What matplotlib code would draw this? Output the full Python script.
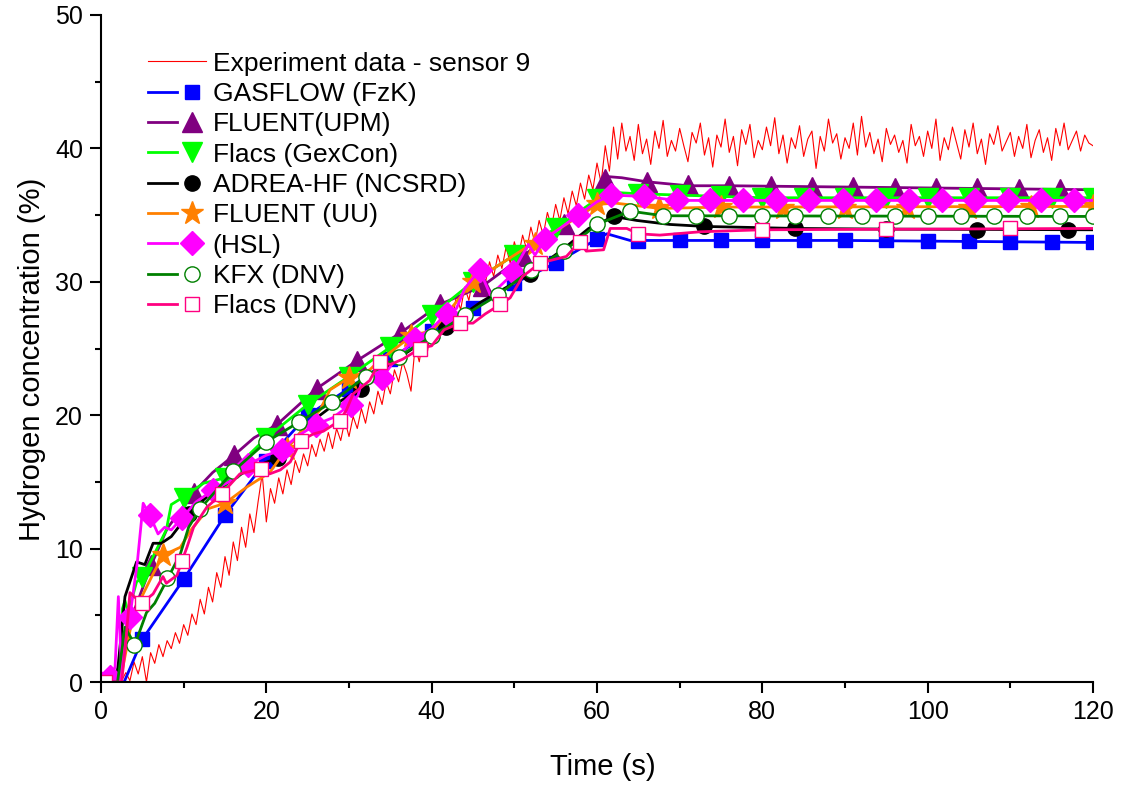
import numpy as np
import matplotlib
matplotlib.use("Agg")
import matplotlib.pyplot as plt
from matplotlib.legend_handler import HandlerTuple

plt.rcParams["font.family"] = ["Liberation Sans", "DejaVu Sans"]

# experiment, sampled every 0.5 s from t = 0
exp_conc = [
    0.0, 0.2, 0.0, 0.3, 0.0, 0.1, 0.7, 0.1, 1.5, 0.6,
    1.9, 0.0, 2.2, 1.4, 2.8, 1.9, 3.1, 2.5, 3.7, 2.9,
    4.3, 3.5, 5.1, 4.3, 6.2, 5.1, 7.1, 6.0, 8.2, 7.1,
    9.4, 8.0, 10.5, 9.1, 11.6, 10.1, 12.6, 11.2, 13.5, 15.6,
    12.0, 14.5, 13.4, 15.3, 14.1, 15.9, 14.8, 16.6, 15.7, 17.1,
    16.2, 17.8, 16.9, 18.2, 17.3, 18.7, 17.5, 19.0, 18.1, 19.6,
    18.4, 19.9, 19.0, 20.5, 19.4, 21.0, 20.1, 21.8, 20.8, 22.5,
    21.6, 23.4, 22.5, 24.0, 23.1, 21.8, 25.2, 24.0, 25.9, 24.8,
    26.8, 25.7, 27.4, 26.3, 28.3, 27.1, 29.0, 27.9, 29.6, 28.6,
    30.3, 29.2, 30.9, 29.9, 31.5, 30.4, 32.0, 31.0, 32.6, 31.4,
    33.0, 31.9, 33.5, 32.4, 34.1, 32.9, 34.6, 33.5, 35.2, 34.1,
    35.8, 34.6, 36.3, 35.1, 36.8, 35.7, 37.4, 36.2, 38.0, 36.9,
    38.9, 37.4, 40.2, 38.3, 41.6, 39.2, 41.9, 39.8,
    40.9, 39.1, 41.8, 39.6, 40.7, 38.8, 41.3, 40.0, 42.1, 39.4,
    40.6, 39.8, 41.5, 40.2, 39.0, 41.2, 40.4, 41.9, 39.5, 40.8,
    38.6, 41.0, 40.1, 42.2, 39.7, 40.9, 38.7, 41.4, 40.3, 41.8,
    39.3, 40.6, 39.9, 41.6, 40.2, 42.3, 39.6, 41.0, 38.9, 40.8,
    40.0, 41.7, 39.4, 40.7, 41.3, 38.5, 40.9, 39.8, 42.2, 40.4,
    41.1, 39.2, 40.8, 40.0, 41.9, 39.5, 42.4, 40.1, 41.2, 39.6,
    40.7, 39.0, 41.5, 40.3, 41.0, 39.7, 40.6, 38.9, 41.8, 40.2,
    40.9, 39.4, 41.3, 40.0, 42.2, 39.1, 40.8, 39.9, 41.6, 40.4,
    39.2, 41.4, 40.1, 41.9, 39.6, 40.7, 38.8, 41.1, 40.3, 41.7,
    39.8, 40.5, 41.2, 39.4, 40.9, 40.0, 41.8, 39.3, 40.6, 41.4,
    39.7, 40.8, 39.1, 41.5, 40.2, 41.9, 39.9, 40.6, 41.3, 39.8,
    41.0, 40.4, 40.2,
]
exp_time = 0.5 * np.arange(len(exp_conc))

# GASFLOW (FzK)
gas_t = [0, 2.8, 5, 10, 15, 20, 25, 30, 35, 40, 45, 50, 55, 60, 61.2, 64, 90, 120]
gas_c = [0, 0, 3.2, 7.7, 12.5, 16.6, 20.0, 22.0, 24.2, 26.3, 28.0, 29.9, 31.4, 33.2, 33.6, 33.1, 33.1, 32.95]
gas_mt = [5, 10, 15, 20, 25, 30, 35, 40, 45, 50, 55, 60, 65, 70, 75, 80, 85, 90, 95, 100, 105, 110, 115, 120]
gas_mc = [3.2, 7.7, 12.5, 16.6, 20.0, 22.0, 24.2, 26.3, 28.0, 29.9, 31.4, 33.2, 33.05, 33.1, 33.1, 33.1,
          33.1, 33.1, 33.1, 33.05, 33.05, 33.0, 32.95, 32.95]

# FLUENT (UPM)
upm_t = [0, 2.2, 3.5, 6.1, 8, 11.2, 13.5, 16.1, 18.5, 21.3, 26.1, 31, 36.3, 41, 46.2, 51, 55.5, 59.5, 61,
         63, 66, 71, 76, 120]
upm_c = [0, 0, 4.5, 8.8, 11.5, 14.2, 15.7, 17.0, 18.3, 19.3, 22.0, 24.1, 26.2, 28.3, 29.7, 31.9, 34.1, 35.6,
         37.9, 37.8, 37.5, 37.2, 37.2, 36.9]
upm_mt = [6.1, 11.2, 16.1, 21.3, 26.1, 31, 36.3, 41, 46.2, 51, 56, 61, 66, 71, 76, 81, 86, 91, 96, 101, 106,
          111, 116]
upm_mc = [8.8, 14.2, 17.0, 19.3, 22.0, 24.1, 26.2, 28.3, 29.7, 31.9, 34.3, 37.7, 37.5, 37.25, 37.2, 37.15,
          37.1, 37.1, 37.05, 37.05, 37.0, 36.95, 36.95]

# Flacs (GexCon)
gex_t = [0, 2.3, 2.6, 2.9, 3.3, 4.3, 5.1, 7.9, 8.5, 9.8, 12.4, 15, 20, 25, 30, 35, 40, 45, 50, 55, 60, 62,
         65, 70, 75, 80, 120]
gex_c = [0, 0, 5.5, 6.1, 5.2, 7.5, 7.9, 11.4, 13.3, 13.8, 14.9, 15.3, 18.3, 20.8, 22.9, 25.1, 27.5, 30.0,
         32.0, 34.0, 36.2, 36.7, 36.6, 36.5, 36.4, 36.3, 36.3]
gex_mt = [5, 10, 15, 20, 25, 30, 35, 40, 45, 50, 55, 60, 65, 70, 75, 80, 85, 90, 95, 100, 105, 110, 115, 120]
gex_mc = [7.9, 13.8, 15.3, 18.3, 20.8, 22.9, 25.1, 27.5, 30.0, 32.0, 34.0, 36.2, 36.6, 36.5, 36.4, 36.3,
          36.3, 36.3, 36.3, 36.3, 36.3, 36.3, 36.3, 36.3]

# ADREA-HF (NCSRD)
adr_t = [0, 1.8, 2.1, 2.9, 4.3, 5.3, 6.3, 7.3, 8.5, 10.6, 13, 15, 18, 21.4, 25, 28, 31.5, 36, 41.7, 46,
         51.9, 56, 59, 62, 64.8, 68.8, 73, 84, 95, 120]
adr_c = [0, 0, 1.4, 6.4, 9.0, 8.8, 10.4, 10.4, 10.9, 12.6, 14.0, 14.8, 16.0, 16.8, 19.3, 20.7, 22.0, 24.3,
         26.6, 28.5, 30.6, 32.5, 34.0, 34.9, 34.6, 34.3, 34.15, 34.0, 33.95, 33.9]
adr_mt = [10.6, 21.4, 31.5, 41.7, 51.9, 62, 73, 84, 95, 106, 117]
adr_mc = [12.6, 16.8, 22.0, 26.6, 30.6, 34.9, 34.15, 34.0, 33.95, 33.9, 33.9]

# FLUENT (UU)
uu_t = [0, 2.3, 3.9, 6.3, 7.5, 9.6, 11, 13, 15, 17.6, 20.4, 22.5, 23.3, 26.5, 27.7, 30, 32.5, 33.7, 37.5,
        40.2, 45, 51.5, 52.5, 55, 58, 60, 62.2, 67.6, 75, 120]
uu_c = [0, 0, 5.1, 8.1, 9.5, 10.1, 11.5, 13.0, 13.4, 14.6, 15.7, 17.5, 18.1, 20.4, 21.9, 22.8, 23.4, 24.1,
        25.9, 26.4, 30.0, 32.6, 32.8, 33.8, 35.0, 35.8, 35.9, 35.5, 35.6, 35.65]
uu_mt = [7.5, 15, 22.5, 30, 37.5, 45, 52.5, 60, 67.5, 75, 82.5, 90, 97.5, 105, 112.5, 120]
uu_mc = [9.5, 13.4, 17.5, 22.8, 25.9, 30.0, 32.8, 35.8, 35.5, 35.6, 35.5, 35.5, 35.5, 35.55, 35.6, 35.65]

# (HSL)
hsl_t = [0, 1.1, 1.7, 2.1, 2.5, 3.1, 3.5, 4.4, 5.1, 5.9, 6.9, 7.7, 8.5, 9.8, 11.5, 13.6, 15.5, 17.8, 20,
         21.9, 23.7, 26, 28, 30.2, 31.1, 31.7, 32.5, 34, 36, 38, 40, 41.8, 43, 44, 45.8, 47.1, 49.5, 51.7,
         52.5, 53.7, 55.5, 57.7, 60, 61.7, 65.7, 69.7, 120]
hsl_c = [0.7, 0.4, 1.1, 6.4, 0.6, 4.6, 4.9, 9.0, 13.4, 12.5, 11.1, 11.6, 11.4, 12.3, 13.5, 14.4, 15.0, 16.3,
         17.0, 17.4, 18.4, 19.3, 19.8, 20.8, 21.5, 22.9, 22.4, 22.8, 24.5, 25.7, 26.5, 27.6, 28.0, 29.5,
         30.9, 29.0, 30.4, 32.8, 32.0, 33.2, 34.0, 35.0, 36.0, 36.5, 36.4, 36.1, 36.1]
hsl_mt = [1.1, 3.5, 5.9, 9.8, 13.6, 17.8, 21.9, 26, 30.2, 34, 38, 41.8, 45.8, 49.8, 53.7, 57.7, 61.7, 65.7,
          69.7, 73.7, 77.7, 81.7, 85.7, 89.7, 93.7, 97.7, 101.7, 105.7, 109.7, 113.7, 117.7]
hsl_mc = [0.4, 4.9, 12.5, 12.3, 14.4, 16.3, 17.4, 19.3, 20.8, 22.8, 25.7, 27.6, 30.9, 30.7, 33.2, 35.0,
          36.5, 36.4, 36.1, 36.1, 36.1, 36.1, 36.1, 36.1, 36.1, 36.1, 36.1, 36.1, 36.1, 36.1, 36.1]

# KFX (DNV)
kfx_t = [0, 2.0, 2.9, 4.1, 5.5, 6.5, 8.1, 9.6, 10.6, 12, 16, 20, 24, 28, 32, 36, 40, 44, 48, 52, 56, 60,
         64, 68, 120]
kfx_c = [0, 0, 4.1, 2.8, 5.2, 5.9, 7.8, 9.6, 11.6, 13.0, 15.8, 18.0, 19.5, 21.0, 22.9, 24.4, 25.9, 27.5,
         29.0, 30.9, 32.3, 34.3, 35.3, 34.95, 34.9]
kfx_mt = [4, 8, 12, 16, 20, 24, 28, 32, 36, 40, 44, 48, 52, 56, 60, 64, 68, 72, 76, 80, 84, 88, 92, 96,
          100, 104, 108, 112, 116, 120]
kfx_mc = [2.8, 7.8, 13.0, 15.8, 18.0, 19.5, 21.0, 22.9, 24.4, 25.9, 27.5, 29.0, 30.9, 32.3, 34.3, 35.3,
          34.95, 34.9, 34.9, 34.9, 34.9, 34.9, 34.9, 34.9, 34.9, 34.9, 34.9, 34.9, 34.9, 34.9]

# Flacs (DNV)
dnv_t = [0, 2.5, 3.0, 3.5, 4.9, 6.3, 7.5, 7.9, 9.2, 9.8, 10.4, 11.2, 12.8, 14.6, 16.8, 19.4, 20.4, 21.7,
         22.9, 24.2, 25.7, 26.9, 28.9, 29.7, 30.5, 32.5, 33.7, 35, 36.5, 38.6, 40, 41.5, 43.4, 45, 46.5,
         48.3, 49.5, 51, 53.1, 55, 56.3, 57.9, 58.7, 60.8, 61.6, 63.6, 65, 67.6, 72.5, 80, 120]
dnv_c = [0, 0, 3.0, 6.7, 5.9, 6.6, 7.9, 7.4, 8.0, 9.1, 10.1, 11.6, 13.1, 14.1, 15.6, 16.0, 15.6, 15.9,
         16.5, 18.1, 18.6, 18.8, 19.6, 20.4, 21.6, 22.6, 24.0, 23.8, 24.2, 25.0, 25.2, 26.4, 26.9, 26.9,
         27.6, 28.3, 28.8, 30.4, 31.4, 31.7, 31.9, 33.0, 32.3, 32.4, 34.0, 34.0, 33.6, 33.5, 33.75, 33.9,
         34.0]
dnv_mt = [0.5, 4.9, 9.8, 14.6, 19.4, 24.2, 28.9, 33.7, 38.6, 43.4, 48.3, 53.1, 57.9, 65, 80, 95, 110]
dnv_mc = [0, 5.9, 9.1, 14.1, 16.0, 18.1, 19.6, 24.0, 25.0, 26.9, 28.3, 31.4, 32.95, 33.6, 33.9, 33.95, 34.0]

models = [
    ("GASFLOW (FzK)", gas_t, gas_c, gas_mt, gas_mc, "#0000FF", "s", "#0000FF", 10.5),
    ("FLUENT(UPM)", upm_t, upm_c, upm_mt, upm_mc, "#800080", "^", "#800080", 14),
    ("Flacs (GexCon)", gex_t, gex_c, gex_mt, gex_mc, "#00FF00", "v", "#00FF00", 14),
    ("ADREA-HF (NCSRD)", adr_t, adr_c, adr_mt, adr_mc, "#000000", "o", "#000000", 11),
    ("FLUENT (UU)", uu_t, uu_c, uu_mt, uu_mc, "#FF8000", "*", "#FF8000", 17),
    ("(HSL)", hsl_t, hsl_c, hsl_mt, hsl_mc, "#FF00FF", "D", "#FF00FF", 12),
    ("KFX (DNV)", kfx_t, kfx_c, kfx_mt, kfx_mc, "#008000", "o", "white", 11),
    ("Flacs (DNV)", dnv_t, dnv_c, dnv_mt, dnv_mc, "#FF0080", "s", "white", 10.5),
]

fig = plt.figure(figsize=(11.21, 7.87), dpi=100)
ax = fig.add_axes([101 / 1121, 1 - 682 / 787, 992 / 1121, 667 / 787])

handles, labels = [], []
h, = ax.plot(exp_time, exp_conc, color="#FF0000", lw=0.8)
handles.append(h)
labels.append("Experiment data - sensor 9")

for name, t, c, mt, mc, col, mk, face, ms in models:
    ln, = ax.plot(t, c, color=col, lw=2.0)
    mks, = ax.plot(mt, mc, ls="none", marker=mk, ms=ms, color=col,
                   markerfacecolor=face, markeredgecolor=col, markeredgewidth=1.0)
    handles.append((ln, mks))
    labels.append(name)

ax.set_xlim(0, 120)
ax.set_ylim(0, 50)
ax.set_xticks(np.arange(0, 121, 20))
ax.set_xticks(np.arange(10, 121, 20), minor=True)
ax.set_yticks(np.arange(0, 51, 10))
ax.set_yticks(np.arange(5, 51, 10), minor=True)
ax.tick_params(which="major", direction="out", length=8, width=1.5, labelsize=18, pad=5)
ax.tick_params(which="minor", direction="out", length=4.5, width=1.5)
for side in ("top", "right"):
    ax.spines[side].set_visible(False)
for side in ("left", "bottom"):
    ax.spines[side].set_linewidth(1.5)

ax.set_xlabel("Time (s)", fontsize=21)
ax.set_ylabel("Hydrogen concentration (%)", fontsize=21)
ax.xaxis.set_label_coords(0.506, -0.106)
ax.yaxis.set_label_coords(-0.0554, 0.484)

ax.legend(handles, labels, handler_map={tuple: HandlerTuple(ndivide=None)},
          loc="upper left", bbox_to_anchor=(0.047, 0.945), frameon=False,
          fontsize=19, numpoints=1, handlelength=2.23, handletextpad=0.24,
          labelspacing=0.24, borderpad=0, borderaxespad=0)

fig.savefig("out.png", dpi=100)
